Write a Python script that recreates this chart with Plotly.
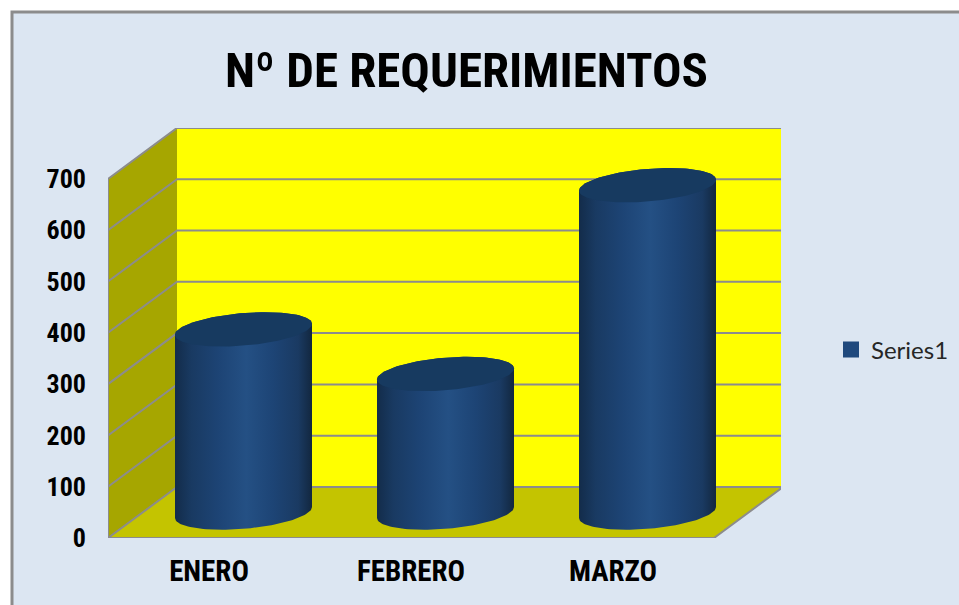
import numpy as np
import plotly.graph_objects as go

categories = ["ENERO", "FEBRERO", "MARZO"]
values = [357, 270, 638]
y_ticks = [0, 100, 200, 300, 400, 500, 600, 700]
series_name = "Series1"
title_text = "Nº DE REQUERIMIENTOS"

# Oblique projection expressed in axis units
DX = 69 / 202       # depth shift, in categories
DY = 51 / 0.513     # depth shift, in value units
RX = 68.5 / 202     # cylinder half width, in categories
RY = 16.3 / 0.513   # ellipse half height, in value units
SHEAR = 5.5 / 0.513 # ellipse slant, in value units
X0, X1 = -0.5, 2.5
TOP = 700

BODY_SCALE = [[0, "#132C4A"], [0.12, "#193A62"], [0.32, "#1D4475"], [0.52, "#245084"],
              [0.72, "#1D4475"], [0.9, "#1A3A62"], [1, "#12273F"]]
LINE = "#8C8C8C"
FONT = "Roboto"

def p(x, v, depth):
    return x + depth * DX, v + depth * DY

def poly(pts, color):
    xs = [q[0] for q in pts] + [pts[0][0]]
    ys = [q[1] for q in pts] + [pts[0][1]]
    return go.Scatter(x=xs, y=ys, mode="lines", fill="toself", fillcolor=color,
                      line=dict(width=0), showlegend=False, hoverinfo="skip")

def seg(pts):
    return go.Scatter(x=[q[0] for q in pts], y=[q[1] for q in pts], mode="lines",
                      line=dict(color=LINE, width=2), showlegend=False, hoverinfo="skip")

fig = go.Figure()
fig.add_trace(poly([p(X0, 0, 1), p(X1, 0, 1), p(X1, TOP, 1), p(X0, TOP, 1)], "#FFFF00"))
fig.add_trace(poly([p(X0, 0, 0), p(X0, 0, 1), p(X0, TOP, 1), p(X0, TOP, 0)], "#A6A600"))
fig.add_trace(poly([p(X0, 0, 0), p(X1, 0, 0), p(X1, 0, 1), p(X0, 0, 1)], "#C4C400"))
for t in y_ticks:
    fig.add_trace(seg([p(X0, t, 0), p(X0, t, 1), p(X1, t, 1)]))
fig.add_trace(seg([p(X0, 0, 0), p(X0, TOP, 0)]))
fig.add_trace(seg([p(X0, 0, 0), p(X1, 0, 0), p(X1, 0, 1)]))

theta = np.linspace(0, 2 * np.pi, 121)
for i, v in enumerate(values):
    cx, base = p(i, 0, 0.5)
    t_low = np.linspace(np.pi, 2 * np.pi, 61)
    xb = cx + RX * np.cos(t_low)
    yb = base + SHEAR * np.cos(t_low) + RY * np.sin(t_low)
    t_up = np.linspace(0, np.pi, 61)
    xt = cx + RX * np.cos(t_up)
    yt = base + v + SHEAR * np.cos(t_up) + RY * np.sin(t_up)
    fig.add_trace(go.Scatter(x=np.r_[xb, xt, xb[0]], y=np.r_[yb, yt, yb[0]], mode="lines",
                             fill="toself", line=dict(width=0),
                             fillgradient=dict(type="horizontal", colorscale=BODY_SCALE),
                             showlegend=False, hoverinfo="skip"))
    fig.add_trace(go.Scatter(x=cx + RX * np.cos(theta),
                             y=base + v + SHEAR * np.cos(theta) + RY * np.sin(theta),
                             mode="lines", fill="toself", fillcolor="#173A60",
                             line=dict(width=0), showlegend=False, hoverinfo="skip"))

fig.add_trace(go.Scatter(x=[None], y=[None], mode="markers", name=series_name,
                         marker=dict(symbol="square", size=16, color="#1F497D")))

W, H = 959, 605
L, R, T, B = 108, 781, 128, 538
def px(x): return (x - L) / (R - L)
def py(y): return (B - y) / (B - T)

fig.update_layout(
    width=W, height=H, autosize=False,
    margin=dict(l=L, r=W - R, t=T, b=H - B, pad=0),
    paper_bgcolor="white", plot_bgcolor="rgba(0,0,0,0)",
    title=dict(text=title_text, x=466.5 / W, xanchor="center", y=1 - 70 / H, yanchor="middle",
               font=dict(family=FONT, size=49, color="black", weight="bold")),
    xaxis=dict(range=[X0, X0 + (R - L) / 202], tickmode="array", tickvals=[0, 1, 2], ticktext=categories,
               showgrid=False, zeroline=False, showline=False, ticks="", ticklabelstandoff=13,
               tickfont=dict(family=FONT, size=29, color="black", weight="bold")),
    yaxis=dict(range=[0, (B - T) / 0.513], tickmode="array", tickvals=y_ticks,
               showgrid=False, zeroline=False, showline=False, ticks="", ticklabelstandoff=21,
               tickfont=dict(family=FONT, size=26, color="black", weight="bold")),
    legend=dict(xref="container", yref="container", x=831 / W, xanchor="left", y=1 - 350 / H, yanchor="middle",
                bgcolor="rgba(0,0,0,0)", font=dict(family="Lato", size=24, color="#262626")),
    shapes=[dict(type="rect", xref="paper", yref="paper", layer="below",
                 x0=px(12), x1=px(1100), y0=py(12), y1=py(800),
                 fillcolor="#DCE6F2", line=dict(color="#8C8C8C", width=3))],
)
fig.write_html("out.html", config={"displayModeBar": False},
               post_script="document.body.style.margin='0';"
               "var s=document.createElement('style');s.textContent='svg text{font-stretch:75%}';document.head.appendChild(s);")
